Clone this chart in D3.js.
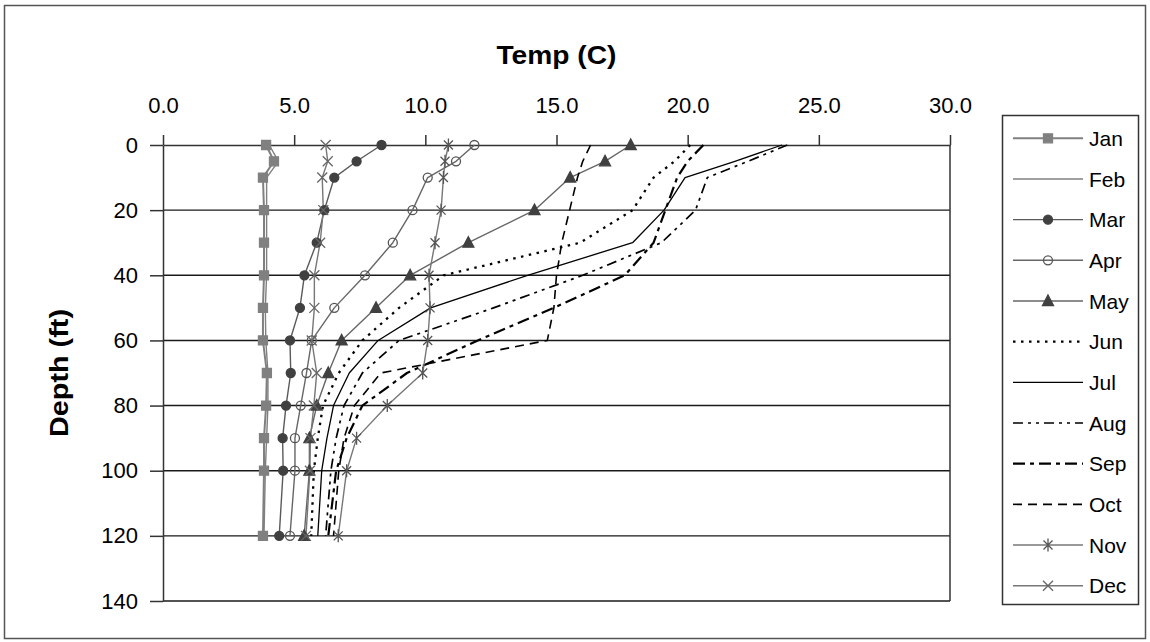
<!DOCTYPE html>
<html>
<head>
<meta charset="utf-8">
<script src="https://cdn.jsdelivr.net/npm/d3@7"></script>
<style>
  body { margin: 0; background: #fff; }
  svg { display: block; font-family: "Liberation Sans", Arial, sans-serif; }
</style>
</head>
<body>
<svg></svg>
<script>
let width = 1150, height = 642;

// Depth (ft) of each reading
const depths = [0, 5, 10, 20, 30, 40, 50, 60, 70, 80, 90, 100, 120];

// Temperature (C) per month, one value per depth
const jan = [3.93, 4.23, 3.81, 3.85, 3.85, 3.85, 3.81, 3.81, 3.96, 3.93, 3.85, 3.85, 3.81];
const feb = [4.05, 4.4, 3.95, 3.95, 3.95, 3.95, 3.9, 3.92, 4.0, 4.0, 3.95, 3.9, 3.85];
const mar = [8.33, 7.38, 6.53, 6.15, 5.86, 5.39, 5.22, 4.84, 4.87, 4.69, 4.56, 4.58, 4.43];
const apr = [11.87, 11.17, 10.09, 9.51, 8.76, 7.7, 6.53, 5.67, 5.47, 5.25, 5.03, 5.03, 4.84];
const may = [17.83, 16.85, 15.52, 14.16, 11.64, 9.42, 8.12, 6.81, 6.3, 5.86, 5.58, 5.58, 5.38];
const jun = [20.1, 19.5, 18.7, 17.9, 15.9, 10.7, 9.0, 7.6, 6.7, 6.1, 5.9, 5.75, 5.65];
const jul = [23.6, 21.8, 19.9, 19.1, 17.9, 13.9, 10.2, 8.2, 7.1, 6.5, 6.25, 6.05, 5.9];
const aug = [23.8, 22.3, 20.75, 20.3, 19.0, 16.0, 12.6, 9.0, 7.6, 6.9, 6.6, 6.4, 6.2];
const sep = [20.6, 20.0, 19.6, 19.15, 18.7, 17.6, 14.9, 12.0, 9.3, 7.6, 7.0, 6.6, 6.3];
const oct = [16.3, 16.0, 15.8, 15.5, 15.2, 15.0, 14.9, 14.65, 8.3, 7.3, 6.9, 6.7, 6.5];
const nov = [10.88, 10.75, 10.69, 10.6, 10.37, 10.14, 10.18, 10.09, 9.9, 8.55, 7.38, 7.0, 6.68];
const dec = [6.2, 6.28, 6.07, 6.11, 5.99, 5.77, 5.77, 5.67, 5.86, 5.75, 5.62, 5.6, 5.45];

const months = ["Jan", "Feb", "Mar", "Apr", "May", "Jun", "Jul", "Aug", "Sep", "Oct", "Nov", "Dec"];
const monthValues = [jan, feb, mar, apr, may, jun, jul, aug, sep, oct, nov, dec];

// Axis ticks
const tempTicks = [0, 5, 10, 15, 20, 25, 30];
const depthTicks = [0, 20, 40, 60, 80, 100, 120, 140];

// Look of each series (Excel style: grey marker lines, black dashed lines)
const seriesStyle = {
    Jan: { stroke: "#808080", width: 2, marker: "square", fill: "#808080", mstroke: "#808080" },
    Feb: { stroke: "#808080", width: 1.4 },
    Mar: { stroke: "#5a5a5a", width: 1.4, marker: "circle", fill: "#404040", mstroke: "#404040" },
    Apr: { stroke: "#666", width: 1.4, marker: "circle", fill: "none", mstroke: "#555" },
    May: { stroke: "#666", width: 1.4, marker: "triangle", fill: "#404040", mstroke: "#404040" },
    Jun: { stroke: "#000", width: 2.3, dash: "2.5,5.5" },
    Jul: { stroke: "#000", width: 1.3 },
    Aug: { stroke: "#000", width: 1.7, dash: "10,5,3,5,3,5" },
    Sep: { stroke: "#000", width: 2.2, dash: "12,5,4,5" },
    Oct: { stroke: "#000", width: 1.6, dash: "9,6" },
    Nov: { stroke: "#777", width: 1.4, marker: "star", fill: "none", mstroke: "#555" },
    Dec: { stroke: "#777", width: 1.4, marker: "x", fill: "none", mstroke: "#666" }
};

let svg = d3.select("svg")
    .attr("width", width)
    .attr("height", height);

// Outer chart frame
svg.append("rect")
    .attr("x", 4.5).attr("y", 5.5)
    .attr("width", 1141).attr("height", 633)
    .attr("fill", "#fff")
    .attr("stroke", "#555")
    .attr("stroke-width", 1.5);

// Scales
let x = d3.scaleLinear().domain([0, 30]).range([163, 950]);
let y = d3.scaleLinear().domain([0, 140]).range([145, 601]);

// Horizontal gridlines
svg.append("g")
    .selectAll("line")
    .data(depthTicks.filter(d => d > 0))
    .enter()
    .append("line")
    .attr("x1", x(0)).attr("x2", x(30))
    .attr("y1", d => y(d)).attr("y2", d => y(d))
    .attr("stroke", "#1a1a1a")
    .attr("stroke-width", 1.4);

// Right edge of the plot
svg.append("line")
    .attr("x1", x(30)).attr("x2", x(30))
    .attr("y1", y(0)).attr("y2", y(140))
    .attr("stroke", "#333")
    .attr("stroke-width", 1.5);

// Top temperature axis
let xAxis = svg.append("g")
    .attr("transform", "translate(0," + y(0) + ")")
    .call(d3.axisTop(x).tickValues(tempTicks).tickFormat(d3.format(".1f")).tickSize(10).tickPadding(22).tickSizeOuter(0));

// Left depth axis
let yAxis = svg.append("g")
    .attr("transform", "translate(" + x(0) + ",0)")
    .call(d3.axisLeft(y).tickValues(depthTicks).tickSize(13).tickPadding(12).tickSizeOuter(0));

[xAxis, yAxis].forEach(a => {
    a.select(".domain").attr("stroke", "#333").attr("stroke-width", 1.5);
    a.selectAll(".tick line").attr("stroke", "#333").attr("stroke-width", 1.5);
    a.selectAll(".tick text")
        .attr("fill", "#000")
        .style("font-size", "22px")
        .style("font-family", "Liberation Sans, Arial, sans-serif");
});

// Axis titles
svg.append("text")
    .attr("x", (x(0) + x(30)) / 2)
    .attr("y", 64)
    .attr("text-anchor", "middle")
    .attr("textLength", 120)
    .attr("lengthAdjust", "spacingAndGlyphs")
    .style("font-size", "25px")
    .style("font-weight", "bold")
    .text("Temp (C)");

svg.append("text")
    .attr("transform", "translate(68," + (y(0) + y(140)) / 2 + ") rotate(-90)")
    .attr("text-anchor", "middle")
    .attr("textLength", 128)
    .attr("lengthAdjust", "spacingAndGlyphs")
    .style("font-size", "25px")
    .style("font-weight", "bold")
    .text("Depth (ft)");

// Marker shapes
function markerPath(kind) {
    if (kind == "square") return "M-4.5,-4.5h9v9h-9z";
    if (kind == "circle") return "M4.5,0A4.5,4.5 0 1,1 -4.5,0A4.5,4.5 0 1,1 4.5,0Z";
    if (kind == "triangle") return "M0,-6L5.5,4.5L-5.5,4.5Z";
    if (kind == "star") return "M-4.5,-4.5L4.5,4.5M4.5,-4.5L-4.5,4.5M0,-6.5L0,6.5";
    if (kind == "x") return "M-5,-5L5,5M5,-5L-5,5";
    return "";
}

// Build series
let series = months.map((m, i) => ({
    name: m,
    style: seriesStyle[m],
    points: depths.map((d, j) => ({ depth: d, temp: monthValues[i][j] }))
}));

let line = d3.line()
    .x(d => x(d.temp))
    .y(d => y(d.depth));

// Lines
svg.append("g")
    .attr("id", "lines")
    .selectAll("path")
    .data(series)
    .enter()
    .append("path")
    .attr("d", d => line(d.points))
    .attr("fill", "none")
    .attr("stroke", d => d.style.stroke)
    .attr("stroke-width", d => d.style.width)
    .attr("stroke-dasharray", d => d.style.dash || null)
    .attr("stroke-linejoin", "round");

// Markers
series.filter(s => s.style.marker).forEach(s => {
    svg.append("g")
        .selectAll("path")
        .data(s.points)
        .enter()
        .append("path")
        .attr("transform", d => "translate(" + x(d.temp) + "," + y(d.depth) + ")")
        .attr("d", markerPath(s.style.marker))
        .attr("fill", s.style.fill)
        .attr("stroke", s.style.mstroke)
        .attr("stroke-width", 1.3);
});

// Legend
let legend = svg.append("g").attr("id", "legend");

legend.append("rect")
    .attr("x", 1002.5).attr("y", 115.5)
    .attr("width", 136).attr("height", 489)
    .attr("fill", "#fff")
    .attr("stroke", "#333")
    .attr("stroke-width", 1.5);

let legendY = d3.scalePoint().domain(months).range([138.3, 585.7]);

let item = legend.selectAll(".item")
    .data(series)
    .enter()
    .append("g")
    .attr("class", "item")
    .attr("transform", d => "translate(0," + legendY(d.name) + ")");

item.append("line")
    .attr("x1", 1013).attr("x2", 1083)
    .attr("stroke", d => d.style.stroke)
    .attr("stroke-width", d => d.style.width)
    .attr("stroke-dasharray", d => d.style.dash || null);

item.filter(d => d.style.marker)
    .append("path")
    .attr("transform", "translate(1048,0)")
    .attr("d", d => markerPath(d.style.marker))
    .attr("fill", d => d.style.fill)
    .attr("stroke", d => d.style.mstroke)
    .attr("stroke-width", 1.3);

item.append("text")
    .attr("x", 1089)
    .attr("dy", "0.36em")
    .style("font-size", "21px")
    .text(d => d.name);
</script>
</body>
</html>
